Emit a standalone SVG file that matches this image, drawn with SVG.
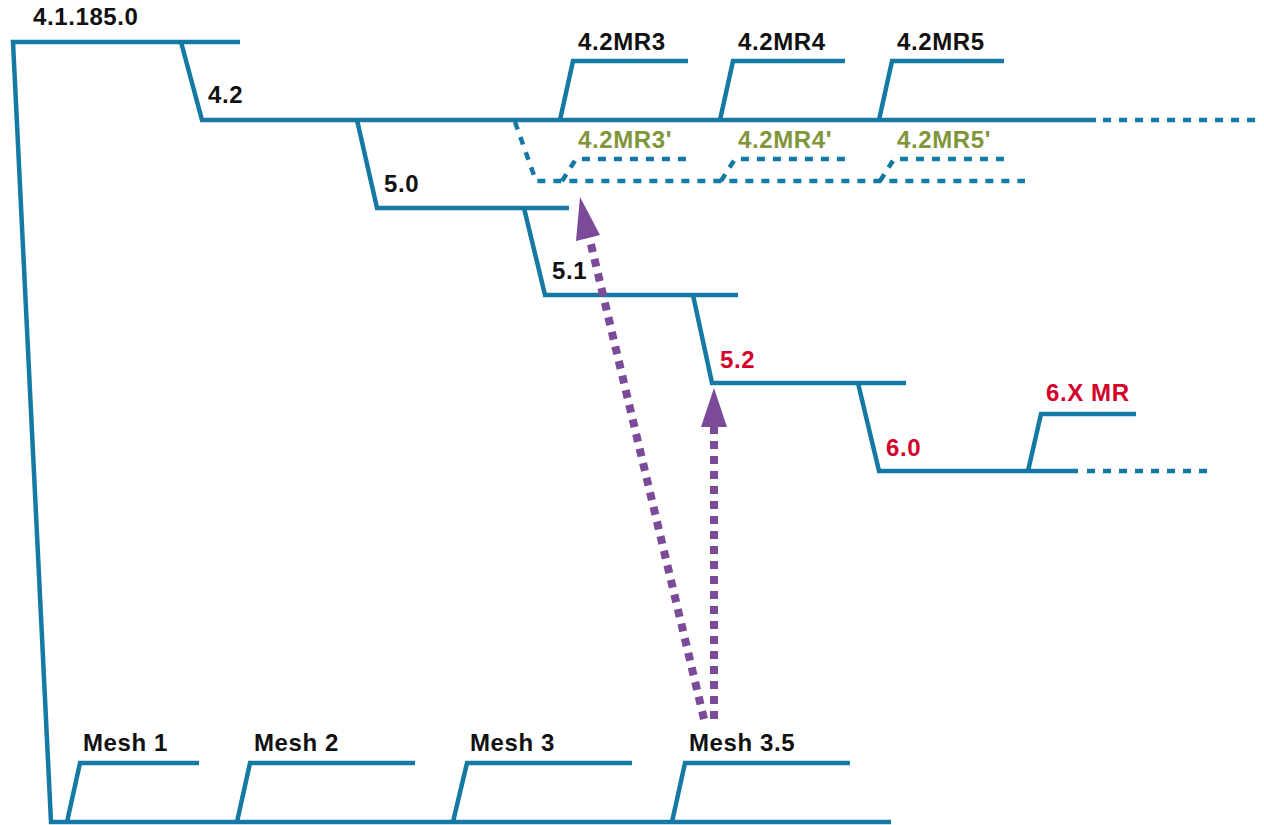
<svg xmlns="http://www.w3.org/2000/svg" width="1264" height="825" viewBox="0 0 1264 825">
<style>
.ln{fill:none;stroke:#1479a3;stroke-width:4.5;stroke-linejoin:miter}
.dt{fill:none;stroke:#1479a3;stroke-width:4.5;stroke-dasharray:8 8}
.ar{fill:none;stroke:#7b4a98;stroke-width:8;stroke-dasharray:8 7}
.hd{fill:#7b4a98}
text{font-family:"Liberation Sans",Arial,sans-serif;font-weight:bold;font-size:24px;letter-spacing:0.6px;fill:#111}
.red{fill:#d4022b}
.grn{fill:#80963a}
</style>
<rect width="1264" height="825" fill="#ffffff"/>
<g id="connectors">
<path class="ln" d="M240,42 H13 L51,822 H891"/>
<path class="ln" d="M181,42 L202,120 H1096"/>
<path class="dt" d="M1103,120 H1258"/>
<path class="ln" d="M357,120 L377,208 H569"/>
<path class="ln" d="M524,208 L545,295 H738"/>
<path class="ln" d="M693,295 L712,383 H906"/>
<path class="ln" d="M858,383 L879,471 H1078"/>
<path class="dt" d="M1087,471 H1210"/>
<path class="ln" d="M1028,471 L1041,414 H1136"/>
<path class="ln" d="M560,120 L573,61 H688"/>
<path class="ln" d="M720,120 L733,61 H845"/>
<path class="ln" d="M879,120 L892,61 H1004"/>
<path class="dt" d="M515,122 L536,181 H1025"/>
<path class="dt" d="M562,181 L576,159 H688"/>
<path class="dt" d="M721,181 L735,159 H845"/>
<path class="dt" d="M880,181 L894,159 H1004"/>
<path class="ln" d="M67,822 L80,763 H199"/>
<path class="ln" d="M237,822 L250,763 H415"/>
<path class="ln" d="M453,822 L467,763 H632"/>
<path class="ln" d="M672,822 L685,763 H850"/>
<path class="ar" d="M704,719 L589,236"/>
<path class="hd" d="M580,197 L600,235 L576,241 Z"/>
<path class="ar" d="M714,719 V426"/>
<path class="hd" d="M714,388 L727,427 L701,427 Z"/>
</g>
<g id="n-4-1-185-0"><text x="33" y="25">4.1.185.0</text></g>
<g id="n-4-2"><text x="208" y="103">4.2</text></g>
<g id="n-5-0"><text x="384" y="192">5.0</text></g>
<g id="n-5-1"><text x="552" y="279">5.1</text></g>
<g id="n-5-2"><text class="red" x="720" y="368">5.2</text></g>
<g id="n-6-0"><text class="red" x="886" y="456">6.0</text></g>
<g id="n-6-x-mr"><text class="red" x="1046" y="401">6.X MR</text></g>
<g id="n-4-2mr3"><text x="578" y="50">4.2MR3</text></g>
<g id="n-4-2mr4"><text x="738" y="50">4.2MR4</text></g>
<g id="n-4-2mr5"><text x="897" y="50">4.2MR5</text></g>
<g id="n-4-2mr3p"><text class="grn" x="578" y="148">4.2MR3'</text></g>
<g id="n-4-2mr4p"><text class="grn" x="738" y="148">4.2MR4'</text></g>
<g id="n-4-2mr5p"><text class="grn" x="897" y="148">4.2MR5'</text></g>
<g id="n-mesh1"><text x="83" y="751">Mesh 1</text></g>
<g id="n-mesh2"><text x="254" y="751">Mesh 2</text></g>
<g id="n-mesh3"><text x="470" y="751">Mesh 3</text></g>
<g id="n-mesh35"><text x="689" y="751">Mesh 3.5</text></g>
</svg>
